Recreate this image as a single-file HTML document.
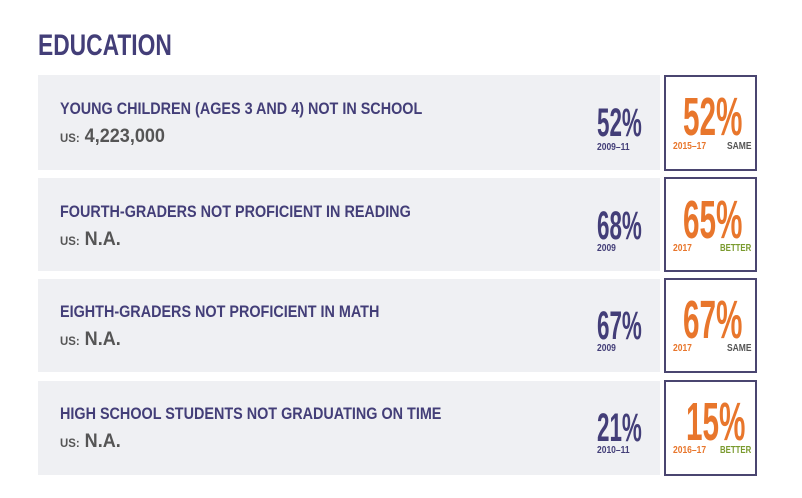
<!DOCTYPE html>
<html><head><meta charset="utf-8"><style>
body{margin:0;width:802px;height:498px;background:#fff;position:relative;overflow:hidden;font-family:"Liberation Sans Narrow","Liberation Sans",sans-serif;font-weight:bold}
.a{position:absolute;white-space:nowrap;transform-origin:0 0}
.row{position:absolute;left:38px;width:622px;background:#eff0f3}
.box{position:absolute;left:664px;width:93px;border:2px solid #4a4570;box-sizing:border-box;background:#fff}
.p{color:#433e78}.o{color:#e8762c}.g{color:#555}.gr{color:#7a9a2e}
</style></head><body>
<div class="a p" style="left:38px;top:29px;font-size:30px;transform:scaleX(0.76)">EDUCATION</div>

<div class="row" style="top:75px;height:95px"></div>
<div class="row" style="top:178px;height:93px"></div>
<div class="row" style="top:279px;height:93px"></div>
<div class="row" style="top:381px;height:94px"></div>
<div class="box" style="top:75px;height:96px"></div>
<div class="box" style="top:177px;height:95px"></div>
<div class="box" style="top:278px;height:95px"></div>
<div class="box" style="top:380px;height:96px"></div>

<div class="a p" style="left:60px;top:99px;font-size:17px;transform:scaleX(0.846)">YOUNG CHILDREN (AGES 3 AND 4) NOT IN SCHOOL</div>
<div class="a g" style="left:60px;top:126px;font-size:19px;transform:scaleX(0.95)"><span style="font-size:12px">US:</span> 4,223,000</div>
<div class="a p" style="left:60px;top:202px;font-size:17px;transform:scaleX(0.846)">FOURTH-GRADERS NOT PROFICIENT IN READING</div>
<div class="a g" style="left:60px;top:229px;font-size:19px;transform:scaleX(0.95)"><span style="font-size:12px">US:</span> N.A.</div>
<div class="a p" style="left:60px;top:302px;font-size:17px;transform:scaleX(0.846)">EIGHTH-GRADERS NOT PROFICIENT IN MATH</div>
<div class="a g" style="left:60px;top:329px;font-size:19px;transform:scaleX(0.95)"><span style="font-size:12px">US:</span> N.A.</div>
<div class="a p" style="left:60px;top:404px;font-size:17px;transform:scaleX(0.846)">HIGH SCHOOL STUDENTS NOT GRADUATING ON TIME</div>
<div class="a g" style="left:60px;top:431px;font-size:19px;transform:scaleX(0.95)"><span style="font-size:12px">US:</span> N.A.</div>

<div class="a p" style="left:597px;top:101px;font-size:40px;transform:scaleX(0.56)">52%</div>
<div class="a p" style="left:597px;top:142px;font-size:10px;transform:scaleX(0.85)">2009–11</div>
<div class="a p" style="left:597px;top:204px;font-size:40px;transform:scaleX(0.56)">68%</div>
<div class="a p" style="left:597px;top:243px;font-size:10px;transform:scaleX(0.85)">2009</div>
<div class="a p" style="left:597px;top:304px;font-size:40px;transform:scaleX(0.56)">67%</div>
<div class="a p" style="left:597px;top:343px;font-size:10px;transform:scaleX(0.85)">2009</div>
<div class="a p" style="left:597px;top:406px;font-size:40px;transform:scaleX(0.56)">21%</div>
<div class="a p" style="left:597px;top:445px;font-size:10px;transform:scaleX(0.85)">2010–11</div>

<div class="a o" style="left:683px;top:86px;font-size:54px;transform:scaleX(0.55)">52%</div>
<div class="a o" style="left:673px;top:141px;font-size:10px;transform:scaleX(0.85)">2015–17</div>
<div class="a g" style="left:727px;top:141px;font-size:10px;transform:scaleX(0.85)">SAME</div>
<div class="a o" style="left:683px;top:189px;font-size:54px;transform:scaleX(0.55)">65%</div>
<div class="a o" style="left:673px;top:243px;font-size:10px;transform:scaleX(0.85)">2017</div>
<div class="a gr" style="left:720px;top:243px;font-size:10px;transform:scaleX(0.78)">BETTER</div>
<div class="a o" style="left:683px;top:289px;font-size:54px;transform:scaleX(0.55)">67%</div>
<div class="a o" style="left:673px;top:343px;font-size:10px;transform:scaleX(0.85)">2017</div>
<div class="a g" style="left:727px;top:343px;font-size:10px;transform:scaleX(0.85)">SAME</div>
<div class="a o" style="left:686px;top:391px;font-size:54px;transform:scaleX(0.55)">15%</div>
<div class="a o" style="left:673px;top:445px;font-size:10px;transform:scaleX(0.85)">2016–17</div>
<div class="a gr" style="left:720px;top:445px;font-size:10px;transform:scaleX(0.78)">BETTER</div>
</body></html>
